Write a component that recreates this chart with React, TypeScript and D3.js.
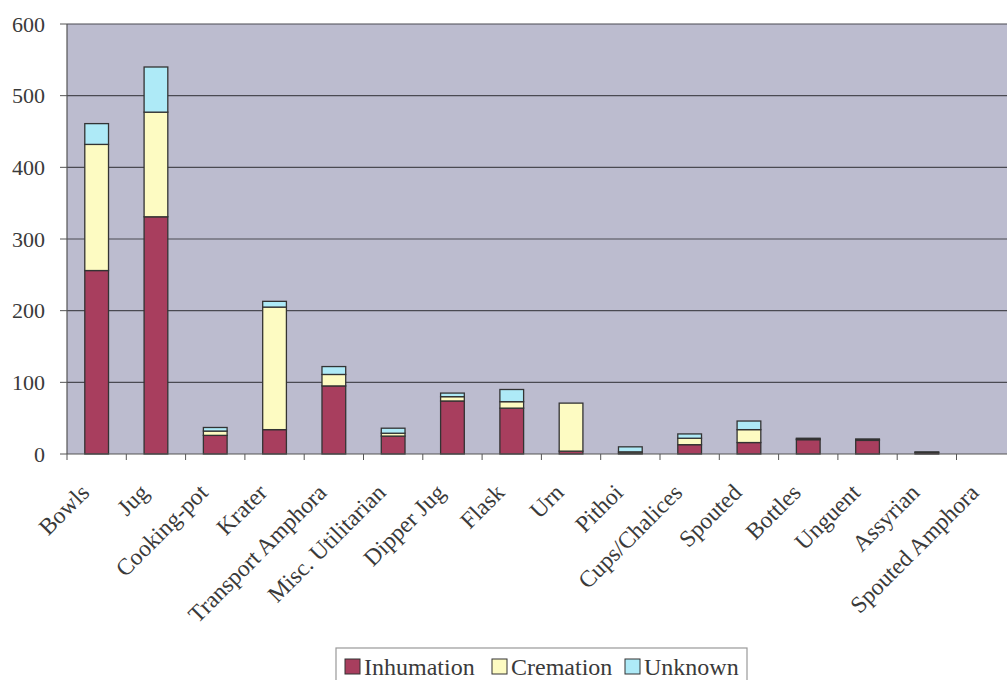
import React from "react";
import * as d3 from "d3";

const categories = ["Bowls", "Jug", "Cooking-pot", "Krater", "Transport Amphora", "Misc. Utilitarian", "Dipper Jug", "Flask", "Urn", "Pithoi", "Cups/Chalices", "Spouted", "Bottles", "Unguent", "Assyrian", "Spouted Amphora"];
const inhumation = [256, 331, 26, 34, 95, 25, 74, 64, 4, 1, 13, 16, 20, 19, 2, 0];
const cremation = [176, 146, 6, 171, 16, 4, 6, 9, 67, 2, 9, 18, 1, 1, 0, 0];
const unknown = [29, 63, 5, 8, 11, 7, 5, 17, 0, 7, 6, 12, 1, 1, 1, 0];
const seriesNames = ["Inhumation", "Cremation", "Unknown"];
const seriesColors = ["#a83e5e", "#fdfbc2", "#aeeaf7"];
const yTicks = [0, 100, 200, 300, 400, 500, 600];

export default function App() {
  const W = 1007, H = 680;
  const left = 67, top = 24, bottom = 454;
  const right = 67 + 59.3 * 16;
  const x = d3.scaleBand<string>().domain(categories).range([left, right]).paddingInner(0.6).paddingOuter(0.3);
  const xb = d3.scaleBand<string>().domain(categories).range([left, right]);
  const y = d3.scaleLinear().domain([0, 600]).range([bottom, top]);
  const rows = categories.map((c, i) => ({ cat: c, Inhumation: inhumation[i], Cremation: cremation[i], Unknown: unknown[i] }));
  const stack = d3.stack<any>().keys(seriesNames)(rows);
  const font = "Liberation Serif, DejaVu Serif, Times New Roman, serif";
  const tStyle = { fontFamily: font } as React.CSSProperties;
  const legX = [345, 492, 625];

  return (
    <svg width={W} height={H} style={{ display: "block", position: "absolute", left: 0, top: 0 }}>
      <rect x={0} y={0} width={W} height={H} fill="#ffffff" />
      <rect x={left} y={top} width={right - left} height={bottom - top} fill="#bcbccf" />
      {yTicks.map((t) => (
        <g key={t}>
          {t > 0 && <line x1={left} x2={right} y1={y(t)} y2={y(t)} stroke="#4a4a52" strokeWidth={1.2} />}
          <line x1={left - 7} x2={left} y1={y(t)} y2={y(t)} stroke="#555" strokeWidth={1} />
          <text x={45} y={y(t)} dy="0.35em" textAnchor="end" style={tStyle} fontSize={22} fill="#3a3a3a">{t}</text>
        </g>
      ))}
      {stack.map((s, si) => (
        <g key={si}>
          {s.map((d, i) => (
            d[1] - d[0] > 0 ? (
              <rect key={i} x={x(categories[i])!} width={x.bandwidth()} y={y(d[1])} height={y(d[0]) - y(d[1])}
                fill={seriesColors[si]} stroke="#333" strokeWidth={1.3} />
            ) : null
          ))}
        </g>
      ))}
      <line x1={left} x2={left} y1={top} y2={bottom} stroke="#555" strokeWidth={1.2} />
      <line x1={left} x2={right} y1={bottom} y2={bottom} stroke="#555" strokeWidth={1.2} />
      {d3.range(categories.length + 1).map((k) => {
        const xx = left + xb.step() * k;
        return <line key={k} x1={xx} x2={xx} y1={bottom} y2={bottom + 6} stroke="#555" strokeWidth={1} />;
      })}
      {categories.map((c) => {
        const cx = xb(c)! + xb.bandwidth() / 2 - 6;
        const cy = bottom + 40;
        return (
          <text key={c} transform={`translate(${cx},${cy}) rotate(-45)`} textAnchor="end"
            style={tStyle} fontSize={23.5} fill="#3a3a3a">{c}</text>
        );
      })}
      <rect x={336} y={648} width={411} height={40} fill="#fff" stroke="#999" strokeWidth={1.2} />
      {seriesNames.map((n, i) => (
        <g key={n}>
          <rect x={legX[i]} y={659} width={15} height={15} fill={seriesColors[i]} stroke="#333" strokeWidth={1} />
          <text x={legX[i] + 19} y={675} style={tStyle} fontSize={24} fill="#3a3a3a">{n}</text>
        </g>
      ))}
    </svg>
  );
}
